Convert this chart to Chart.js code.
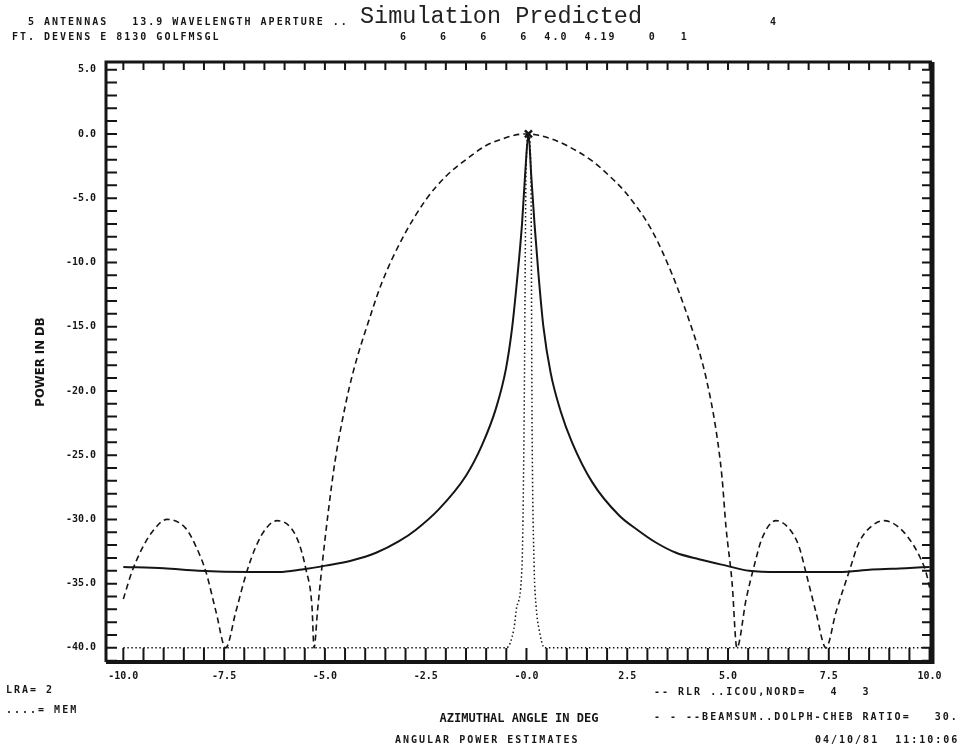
<!DOCTYPE html>
<html>
<head>
<meta charset="utf-8">
<script src="https://cdn.jsdelivr.net/npm/chart.js@4.4.0/dist/chart.umd.min.js"></script>
<style>
  body { margin: 0; background: #fff; }
  #wrap { position: relative; width: 964px; height: 747px; }
  .t { position: absolute; font: bold 10px "DejaVu Sans Mono", monospace; letter-spacing: 2px;
       color: #161616; white-space: pre; line-height: 12px; }
  #title { position: absolute; left: 360px; top: 3px; font: 23.5px "Liberation Mono", monospace;
           color: #222; white-space: pre; }
</style>
</head>
<body>
<div id="wrap">
  <canvas id="chart" width="964" height="747"></canvas>
  <div id="title">Simulation Predicted</div>
  <div class="t" style="left:28px;top:16px">5 ANTENNAS   13.9 WAVELENGTH APERTURE ..</div>
  <div class="t" style="left:770px;top:16px">4</div>
  <div class="t" style="left:12px;top:31px">FT. DEVENS E 8130 GOLFMSGL</div>
  <div class="t" style="left:400px;top:31px">6    6    6    6  4.0  4.19    0   1</div>
  <div class="t" style="left:6px;top:684px">LRA= 2</div>
  <div class="t" style="left:6px;top:704px">....= MEM</div>
  <div class="t" style="left:654px;top:686px">-- RLR ..ICOU,NORD=   4   3</div>
  <div class="t" style="left:654px;top:711px">- - --BEAMSUM..DOLPH-CHEB RATIO=   30.</div>
  <div class="t" style="left:395px;top:734px">ANGULAR POWER ESTIMATES</div>
  <div class="t" style="left:815px;top:734px">04/10/81  11:10:06</div>
</div>
<script>
// azimuthal angle (deg) / power (dB)
const rlrAngle = [-10, -9.0, -8.13, -6.89, -6.14, -5.57, -4.98, -4.33, -3.73, -3.16, -2.74, -2.17, -1.5, -1.1, -0.76, -0.51, -0.36, -0.24, -0.11, -0.03, 0.05,
                  0.12, 0.2, 0.3, 0.42, 0.6, 0.85, 1.13, 1.63, 2.3, 2.79, 3.21, 3.71, 4.28, 4.95, 5.52, 6.27, 7.75, 8.57, 9.41, 10];
const rlrPower = [-33.7, -33.8, -34.0, -34.1, -34.1, -33.9, -33.6, -33.2, -32.6, -31.7, -30.8, -29.2, -26.6, -24.2, -21.4, -18.3, -15.2, -11.6, -7.0, -3.0, 0,
                  -3.3, -7.0, -11.0, -15.0, -18.6, -21.6, -24.0, -27.1, -29.7, -30.9, -31.8, -32.6, -33.1, -33.6, -34.0, -34.1, -34.1, -33.9, -33.8, -33.7];

const beamAngle = [-10, -9.79, -9.54, -9.29, -8.92, -8.45, -8.2, -7.95, -7.7, -7.46,
                   -7.21, -6.94, -6.71, -6.46, -6.19, -5.89, -5.65, -5.47, -5.32, -5.27,
                   -5.18, -5.07, -4.92, -4.75, -4.58, -4.4, -4.2, -3.98, -3.59, -3.09, -2.49, -2.0, -1.5, -1.0, -0.61, -0.3, 0,
                   0.3, 0.63, 1.0, 1.63, 2.0, 2.47, 3.11, 3.61, 3.9, 4.11, 4.3, 4.45, 4.7, 4.85, 4.95, 5.1, 5.22,
                   5.45, 5.65, 5.84, 6.19, 6.51, 6.76, 6.93, 7.18, 7.43,
                   7.68, 8.0, 8.25, 8.57, 8.87, 9.19, 9.49, 9.74, 9.91, 10];
const beamPower = [-36.2, -34.1, -32.3, -31.0, -30.0, -30.7, -32.1, -34.1, -37.2, -40,
                   -37.2, -34.1, -32.1, -30.7, -30.1, -30.5, -31.8, -33.9, -36.8, -40,
                   -37.0, -33.6, -29.5, -25.5, -22.5, -19.8, -17.4, -15.2, -11.6, -8.2, -5.1, -3.3, -2.0, -0.9, -0.4, -0.1, 0,
                   -0.1, -0.4, -0.9, -2.1, -3.1, -4.6, -7.5, -10.9, -13.3, -15.2, -17.1, -18.9, -23.0, -26.7, -30.6, -34.9, -40,
                   -36.2, -33.6, -31.5, -30.1, -30.7, -32.1, -34.1, -37.2, -40,
                   -37.2, -34.1, -31.8, -30.5, -30.1, -30.5, -31.5, -32.8, -34.1, -35.3];

const memAngle = [-10, -0.5, -0.31, -0.24, -0.11, -0.06, -0.01, 0.05, 0.11, 0.14, 0.19, 0.24, 0.31, 0.45, 10];
const memPower = [-40, -40, -38.5, -36.8, -33.6, -23.0, -3.0, 0, -3.0, -23.0, -33.6, -36.8, -38.5, -40, -40];

const peakAngle = [0.05];
const peakPower = [0];

const xTickValues = [-10, -7.5, -5, -2.5, 0, 2.5, 5, 7.5, 10];
const xTickLabels = ['-10.0', '-7.5', '-5.0', '-2.5', '-0.0', '2.5', '5.0', '7.5', '10.0'];
const yTickValues = [5, 0, -5, -10, -15, -20, -25, -30, -35, -40];
const yTickLabels = ['5.0', '0.0', '-5.0', '-10.0', '-15.0', '-20.0', '-25.0', '-30.0', '-35.0', '-40.0'];

const xMinorStep = 0.5;
const yMinorStep = 1;

function toPoints(xs, ys) {
  return xs.map((x, i) => ({ x: x, y: ys[i] }));
}

const ink = '#151515';
const tickFont = { family: 'DejaVu Sans Mono', weight: 'bold', size: 10 };

// thick frame with inward ticks on all four sides
const frameTicks = {
  id: 'frameTicks',
  afterDraw(chart) {
    const { ctx, chartArea: a, scales: { x, y } } = chart;
    ctx.save();
    ctx.strokeStyle = ink;
    ctx.lineWidth = 2;
    ctx.beginPath();
    for (let v = Math.ceil(x.min / xMinorStep) * xMinorStep; v <= x.max + 1e-9; v += xMinorStep) {
      const px = x.getPixelForValue(v);
      ctx.moveTo(px, a.bottom); ctx.lineTo(px, a.bottom - 14);
      ctx.moveTo(px, a.top); ctx.lineTo(px, a.top + 8);
    }
    for (let v = Math.ceil(y.min / yMinorStep) * yMinorStep; v <= y.max + 1e-9; v += yMinorStep) {
      const py = y.getPixelForValue(v);
      ctx.moveTo(a.left, py); ctx.lineTo(a.left + 11, py);
      ctx.moveTo(a.right, py); ctx.lineTo(a.right - 10, py);
    }
    ctx.stroke();
    ctx.lineWidth = 3;
    ctx.beginPath();
    ctx.moveTo(a.left, a.bottom); ctx.lineTo(a.left, a.top); ctx.lineTo(a.right, a.top);
    ctx.stroke();
    ctx.lineWidth = 4;
    ctx.beginPath();
    ctx.moveTo(a.left, a.bottom); ctx.lineTo(a.right, a.bottom);
    ctx.stroke();
    ctx.lineWidth = 5;
    ctx.beginPath();
    ctx.moveTo(a.right, a.top); ctx.lineTo(a.right, a.bottom + 2);
    ctx.stroke();
    ctx.restore();
  }
};

new Chart(document.getElementById('chart').getContext('2d'), {
  type: 'line',
  data: {
    datasets: [
      {
        label: 'RLR',
        data: toPoints(rlrAngle, rlrPower),
        borderColor: ink,
        borderWidth: 2,
        pointRadius: 0,
        cubicInterpolationMode: 'monotone',
        fill: false,
      },
      {
        label: 'BEAMSUM',
        data: toPoints(beamAngle, beamPower),
        borderColor: ink,
        borderWidth: 1.6,
        borderDash: [6, 4],
        pointRadius: 0,
        cubicInterpolationMode: 'monotone',
        fill: false,
      },
      {
        label: 'MEM',
        data: toPoints(memAngle, memPower),
        borderColor: ink,
        borderWidth: 1.5,
        borderDash: [1.5, 2.5],
        pointRadius: 0,
        cubicInterpolationMode: 'monotone',
        fill: false,
      },
      {
        label: 'peak',
        data: toPoints(peakAngle, peakPower),
        showLine: false,
        pointStyle: 'crossRot',
        pointRadius: 5,
        borderWidth: 2.5,
        borderColor: ink,
      },
    ],
  },
  options: {
    responsive: false,
    animation: false,
    layout: { padding: { top: 62, right: 32, left: 0, bottom: 0 } },
    plugins: {
      legend: { display: false },
      tooltip: { enabled: false },
    },
    scales: {
      x: {
        type: 'linear',
        min: -10.43,
        max: 10.06,
        afterBuildTicks: (s) => { s.ticks = xTickValues.map(v => ({ value: v })); },
        afterFit: (s) => { s.height = 85; },
        grid: { display: false, drawTicks: false },
        border: { display: false },
        ticks: {
          padding: 8,
          color: ink,
          font: tickFont,
          autoSkip: false,
          maxRotation: 0,
          callback: (v) => xTickLabels[xTickValues.indexOf(v)],
        },
        title: {
          display: true,
          text: 'AZIMUTHAL ANGLE IN DEG',
          color: ink,
          font: { family: 'DejaVu Sans Mono', weight: 'bold', size: 12 },
          padding: { top: 0, bottom: 21 },
        },
      },
      y: {
        min: -41.1,
        max: 5.6,
        afterBuildTicks: (s) => { s.ticks = yTickValues.map(v => ({ value: v })); },
        afterFit: (s) => { s.width = 106; },
        grid: { display: false, drawTicks: false },
        border: { display: false },
        ticks: {
          padding: 10,
          color: ink,
          font: tickFont,
          autoSkip: false,
          callback: (v) => yTickLabels[yTickValues.indexOf(v)],
        },
        title: {
          display: true,
          text: 'POWER IN DB',
          color: ink,
          font: { family: 'DejaVu Sans Condensed', weight: 'bold', size: 13 },
          padding: { top: 33, bottom: 0 },
        },
      },
    },
  },
  plugins: [frameTicks],
});
</script>
</body>
</html>
